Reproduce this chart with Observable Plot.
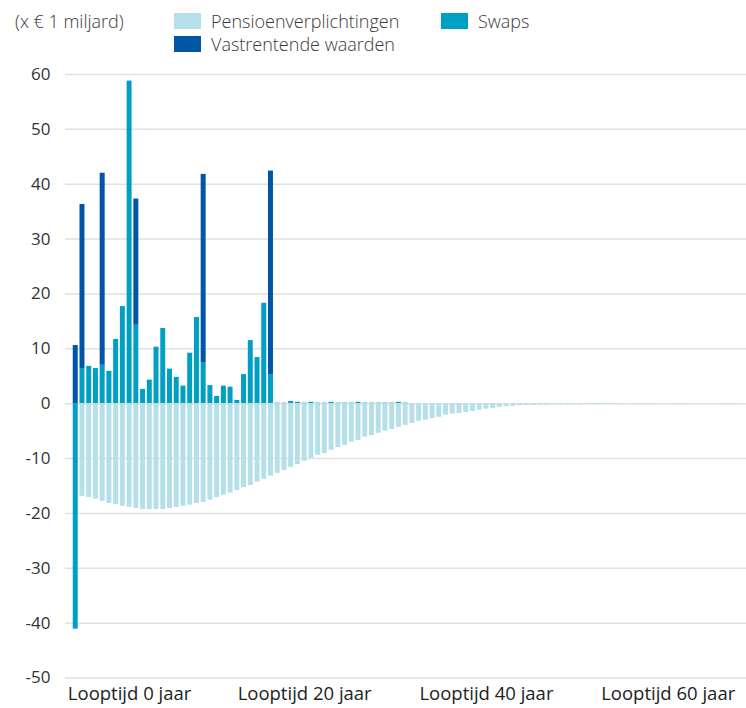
<!DOCTYPE html>
<html>
<head>
<meta charset="utf-8">
<script src="https://cdn.jsdelivr.net/npm/d3@7"></script>
<script src="https://cdn.jsdelivr.net/npm/@observablehq/plot@0.6"></script>
<style>
  html, body { margin: 0; padding: 0; background: #fff; }
  body { width: 746px; height: 708px; overflow: hidden; font-family: "Open Sans", sans-serif; color: #3a3a3a; }
  #header { position: relative; height: 56px; font-size: 18px; font-weight: 300; }
  #header .unit { position: absolute; left: 15px; top: 9px; line-height: 24px; }
  .item { position: absolute; display: flex; align-items: center; height: 24px; line-height: 24px; }
  .sw { width: 27px; height: 16px; margin-right: 10px; }
  #chart svg { display: block; }
</style>
</head>
<body>
<div id="header"></div>
<div id="chart"></div>
<script>
// Series names and colours
const seriesNames = ["Swaps", "Vastrentende waarden", "Pensioenverplichtingen"];
const seriesColors = ["#00a0c4", "#0056a4", "#b6e0e9"];

// Y ticks and x tick labels
const yTicks = [-50, -40, -30, -20, -10, 0, 10, 20, 30, 40, 50, 60];
const xTickLabels = ["Looptijd 0 jaar", "Looptijd 20 jaar", "Looptijd 40 jaar", "Looptijd 60 jaar"];
const xTickBars = [8, 34, 61, 88];

// Values (x € 1 miljard), one per looptijd bar
const pension = [
  0,
  -16.9, -17.1, -17.4, -17.8, -18.2, -18.4, -18.7, -18.9, -19.1,
  -19.3, -19.3, -19.3, -19.3, -19.1, -18.9, -18.7, -18.5, -18.2, -18.0,
  -17.6, -17.1, -16.7, -16.3, -15.8, -15.3, -14.9, -14.3, -13.8, -13.2,
  -12.7, -12.2, -11.6, -11.1, -10.5, -10.0, -9.4, -9.1, -8.5, -8.0,
  -7.6, -7.0, -6.7, -6.1, -5.8, -5.4, -5.0, -4.7, -4.3, -3.95,
  -3.6, -3.2, -3.0, -2.7, -2.5, -2.1, -1.9, -1.8, -1.6, -1.4,
  -1.2, -1.0, -0.85, -0.67, -0.55, -0.5, -0.36, -0.3, -0.3, -0.25,
  -0.25, -0.2, -0.2, -0.18, -0.17, -0.16, -0.15, -0.15, -0.14, -0.13,
  -0.13, -0.12, -0.12, -0.11, -0.11, -0.1, -0.1, -0.1, -0.1, -0.1,
  -0.1, -0.1, -0.1, -0.1, -0.1, -0.1, -0.1, -0.1, -0.1, -0.1
];
const swaps = [
  -41.1, 6.4, 6.8, 6.4, 7.0, 5.9, 11.7, 17.7, 58.8, 14.3,
  2.6, 4.3, 10.3, 13.7, 6.3, 4.8, 3.2, 9.2, 15.7, 7.5,
  3.3, 1.3, 3.2, 3.0, 0.6, 5.3, 11.5, 8.4, 18.3, 5.3,
  0.1, 0.1, 0.4, 0.25, 0.1, 0.25, 0.1, 0.1, 0.25, 0.1,
  0.1, 0.1, 0.25, 0.1, 0.1, 0.1, 0.1, 0.1, 0.25, 0.1,
  0, 0, 0, 0, 0, 0, 0, 0, 0, 0,
  0, 0, 0, 0, 0, 0, 0, 0, 0, 0,
  0, 0, 0, 0, 0, 0, 0, 0, 0, 0,
  0, 0, 0, 0, 0, 0, 0, 0, 0, 0,
  0, 0, 0, 0, 0, 0, 0, 0, 0, 0
];
const vastrentend = [
  10.6, 29.9, 0, 0, 35.0, 0, 0, 0, 0, 23.0,
  0, 0, 0, 0, 0, 0, 0, 0, 0, 34.3,
  0, 0, 0, 0, 0, 0, 0, 0, 0, 37.1,
  0, 0, 0, 0, 0, 0, 0, 0, 0, 0,
  0, 0, 0, 0, 0, 0, 0, 0, 0, 0,
  0, 0, 0, 0, 0, 0, 0, 0, 0, 0,
  0, 0, 0, 0, 0, 0, 0, 0, 0, 0,
  0, 0, 0, 0, 0, 0, 0, 0, 0, 0,
  0, 0, 0, 0, 0, 0, 0, 0, 0, 0,
  0, 0, 0, 0, 0, 0, 0, 0, 0, 0
];

const bars = pension.map((_, i) => i);
const rows = [];
bars.forEach(i => {
  rows.push({i, series: "Swaps", value: swaps[i]});
  rows.push({i, series: "Vastrentende waarden", value: vastrentend[i]});
  rows.push({i, series: "Pensioenverplichtingen", value: pension[i]});
});

// Header: unit + legend
const header = document.getElementById("header");
const unit = document.createElement("div");
unit.className = "unit";
unit.textContent = "(x € 1 miljard)";
header.appendChild(unit);
const legendItems = [
  {name: "Pensioenverplichtingen", left: 174, top: 9},
  {name: "Swaps", left: 441, top: 9},
  {name: "Vastrentende waarden", left: 174, top: 32}
];
legendItems.forEach(it => {
  const d = document.createElement("div");
  d.className = "item";
  d.style.left = it.left + "px";
  d.style.top = it.top + "px";
  const s = document.createElement("div");
  s.className = "sw";
  s.style.background = seriesColors[seriesNames.indexOf(it.name)];
  const t = document.createElement("span");
  t.textContent = it.name;
  d.appendChild(s); d.appendChild(t);
  header.appendChild(d);
});

const chart = Plot.plot({
  width: 746,
  height: 652,
  marginLeft: 71,
  marginRight: 0,
  marginTop: 18,
  marginBottom: 30.5,
  x: {type: "band", domain: bars, padding: 0.26, axis: null},
  y: {domain: [-50, 60], axis: null},
  color: {domain: seriesNames, range: seriesColors},
  style: {fontFamily: "Open Sans, sans-serif", fontSize: "17px", fontWeight: 400, color: "#333", background: "#fff", overflow: "visible"},
  marks: [
    Plot.ruleY(yTicks, {stroke: "#e1e1e1", strokeWidth: 1.5, insetLeft: -6}),
    Plot.barY(rows, {x: "i", y: "value", fill: "series", z: "series", order: seriesNames}),
    Plot.axisY(yTicks, {label: null, tickSize: 0, tickPadding: 21, tickFormat: d => String(d), fontSize: 17, fill: "#333"}),
    Plot.axisX(xTickBars, {label: null, tickSize: 0, tickPadding: 9, tickFormat: d => xTickLabels[xTickBars.indexOf(d)], fontSize: 18.5, fill: "#222"})
  ]
});
document.getElementById("chart").appendChild(chart);
</script>
</body>
</html>
